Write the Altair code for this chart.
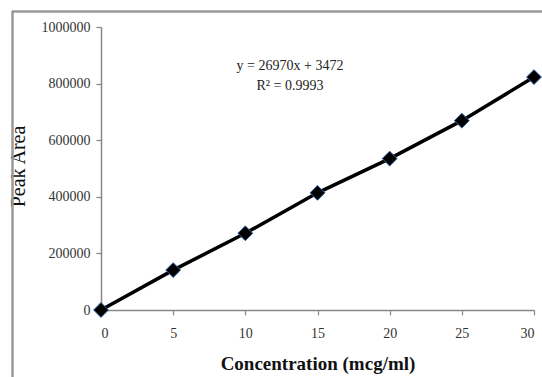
import altair as alt
import pandas as pd

conc = [0, 5, 10, 15, 20, 25, 30]
area = [0, 141000, 271000, 414000, 535000, 669000, 823000]
eq_lines = ["y = 26970x + 3472", "R² = 0.9993"]

df = pd.DataFrame({"conc": conc, "area": area})

FONT = "Liberation Serif"
W, H = 433, 283
PL, PT = 101, 27

x = alt.X("conc:Q", title="Concentration (mcg/ml)",
          scale=alt.Scale(domain=[0, 30], nice=False),
          axis=alt.Axis(values=conc, grid=False, tickSize=5, labelPadding=11,
                        titlePadding=14, titleFontWeight="bold", titleFontSize=19))
y = alt.Y("area:Q", title="Peak Area",
          scale=alt.Scale(domain=[0, 1000000], nice=False),
          axis=alt.Axis(values=[0, 200000, 400000, 600000, 800000, 1000000],
                        grid=False, tickSize=5, labelPadding=6, format="d",
                        titleX=-73, titleY=139, titleAngle=270,
                        titleBaseline="bottom", titleAlign="center",
                        titleFontWeight="normal", titleFontSize=20))

line = alt.Chart(df).mark_line(color="black", strokeWidth=3.5).encode(x=x, y=y)
pts = alt.Chart(df).mark_point(shape="diamond", filled=True, size=220, color="black",
                               stroke="#2a5fa0", strokeWidth=1, opacity=1).encode(x=x, y=y)

eq = alt.Chart(pd.DataFrame({"t": [eq_lines[0]]})).mark_text(
    font=FONT, fontSize=14, color="#222").encode(
    text="t:N", x=alt.value(290 - PL), y=alt.value(66 - PT))
r2 = alt.Chart(pd.DataFrame({"t": [eq_lines[1]]})).mark_text(
    font=FONT, fontSize=14, color="#222").encode(
    text="t:N", x=alt.value(290 - PL), y=alt.value(86 - PT))

border_left = alt.Chart(pd.DataFrame({"a": [0]})).mark_rule(
    color="#999", strokeWidth=2.5, clip=False).encode(
    x=alt.value(12.5 - PL), y=alt.value(11 - PT), y2=alt.value(377 - PT))
border_top = alt.Chart(pd.DataFrame({"a": [0]})).mark_rule(
    color="#999", strokeWidth=2.5, clip=False).encode(
    y=alt.value(11.5 - PT), x=alt.value(12 - PL), x2=alt.value(542 - PL))

chart = alt.layer(border_left, border_top, line, pts, eq, r2).properties(
    width=W, height=H,
    autosize=alt.AutoSizeParams(type="none"),
    padding={"left": PL, "top": PT, "right": 542 - PL - W, "bottom": 377 - PT - H},
    background="white",
).configure_view(stroke=None).configure_axis(
    labelFont=FONT, labelFontSize=14, labelColor="#333",
    titleFont=FONT, titleFontSize=17, titleColor="#111",
    domainColor="#888", domainWidth=1.5, tickColor="#888", tickWidth=1.2,
)

chart.save("out.html", embed_options={"renderer": "svg", "actions": False})
